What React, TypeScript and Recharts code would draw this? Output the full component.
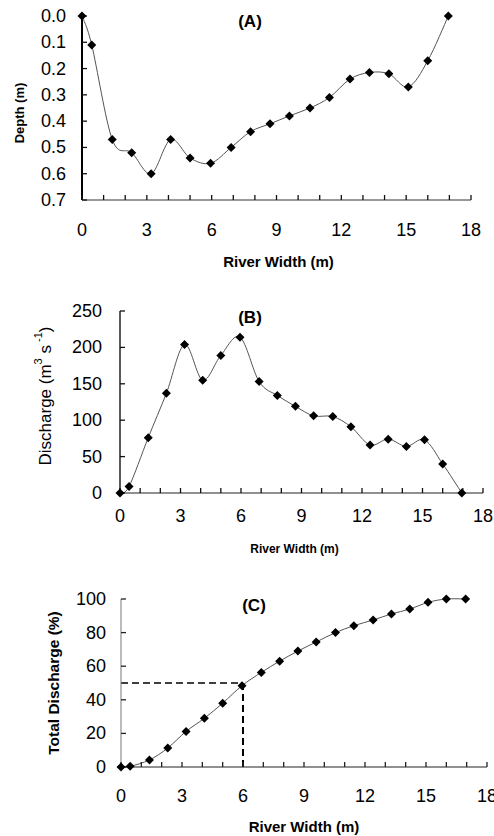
import { Label, Line, LineChart, ReferenceLine, XAxis, YAxis } from "recharts";

const FONT = '"Liberation Sans", Arial, sans-serif';

// distance across the river (m), shared by all three panels
const distance = [0, 0.45, 1.4, 2.3, 3.2, 4.1, 5.0, 5.95, 6.9, 7.8, 8.7, 9.6, 10.55, 11.45, 12.4, 13.3, 14.2, 15.1, 16.0, 16.95];
const depth = [0, 0.11, 0.47, 0.52, 0.6, 0.47, 0.54, 0.56, 0.5, 0.44, 0.41, 0.38, 0.35, 0.31, 0.24, 0.215, 0.22, 0.27, 0.17, 0];
const discharge = [0, 9, 76, 137, 204, 155, 189, 214, 153, 134, 119, 106, 105, 91, 66, 74, 64, 73, 40, 0];
const cumulative = [0, 0.4, 4.2, 11.3, 21.2, 29, 38, 48.4, 56.3, 63, 69, 74.4, 80, 84.1, 87.5, 91.1, 94, 98, 100, 100];

const xTicks = [0, 1, 2, 3, 4, 5, 6, 7, 8, 9, 10, 11, 12, 13, 14, 15, 16, 17, 18];
const depthTicks = [0, 0.1, 0.2, 0.3, 0.4, 0.5, 0.6, 0.7];
const dischargeTicks = [0, 50, 100, 150, 200, 250];
const cumulativeTicks = [0, 20, 40, 60, 80, 100];

const rows = distance.map((x, i) => ({
  x,
  depth: depth[i],
  q: discharge[i],
  cum: cumulative[i],
}));

// Excel style smoothed line (Catmull-Rom through every point)
const excelSmooth = (context: any) => {
  let pts: number[][] = [];
  return {
    areaStart() {},
    areaEnd() {},
    lineStart() {
      pts = [];
    },
    point(x: number, y: number) {
      pts.push([+x, +y]);
    },
    lineEnd() {
      if (!pts.length) return;
      context.moveTo(pts[0][0], pts[0][1]);
      for (let i = 0; i < pts.length - 1; i++) {
        const p0 = pts[i - 1] || pts[i];
        const p1 = pts[i];
        const p2 = pts[i + 1];
        const p3 = pts[i + 2] || p2;
        context.bezierCurveTo(
          p1[0] + (p2[0] - p0[0]) / 6,
          p1[1] + (p2[1] - p0[1]) / 6,
          p2[0] - (p3[0] - p1[0]) / 6,
          p2[1] - (p3[1] - p1[1]) / 6,
          p2[0],
          p2[1]
        );
      }
    },
  };
};

const Diamond = (props: any) => {
  const { cx, cy, index } = props;
  if (cx == null || cy == null) return <g key={index} />;
  const r = 4.5;
  return (
    <path
      key={index}
      d={`M${cx},${cy - r}L${cx + r},${cy}L${cx},${cy + r}L${cx - r},${cy}Z`}
      fill="#000"
    />
  );
};

const TICK_FS = 18;
const TICK_LEN = 5;

// tick marks pointing into the plot, drawn as the dots of an invisible series
const xMark = (color: string) => (props: any) => {
  const { cx, cy, index } = props;
  if (cx == null || cy == null) return <g key={index} />;
  return <path key={index} d={`M${cx},${cy}V${cy - TICK_LEN}`} stroke={color} strokeWidth={1.3} fill="none" />;
};
const yMark = (color: string) => (props: any) => {
  const { cx, cy, index } = props;
  if (cx == null || cy == null) return <g key={index} />;
  return <path key={index} d={`M${cx},${cy}H${cx + TICK_LEN}`} stroke={color} strokeWidth={1.3} fill="none" />;
};

const TickMarks = (yTicks: number[], yBase: number, color: string) => [
  <Line
    key="xm"
    data={xTicks.map((t) => ({ x: t, m: yBase }))}
    dataKey="m"
    stroke="none"
    dot={xMark(color)}
    activeDot={false}
    legendType="none"
    isAnimationActive={false}
  />,
  <Line
    key="ym"
    data={yTicks.map((t) => ({ x: 0, m: t }))}
    dataKey="m"
    stroke="none"
    dot={yMark(color)}
    activeDot={false}
    legendType="none"
    isAnimationActive={false}
  />,
];

// tick labels: a number every 3 m on x
const xText = (gap: number) => (props: any) => {
  const { x, y, payload } = props;
  const v = payload.value;
  if (v % 3 !== 0) return <g />;
  return (
    <text x={x} y={y + gap} textAnchor="middle" dominantBaseline="central" fontFamily={FONT} fontSize={TICK_FS} fill="#000">
      {v}
    </text>
  );
};
const yText = (gap: number, fmt: (v: number) => string) => (props: any) => {
  const { x, y, payload } = props;
  return (
    <text x={x - gap} y={y} textAnchor="end" dominantBaseline="central" fontFamily={FONT} fontSize={TICK_FS} fill="#000">
      {fmt(payload.value)}
    </text>
  );
};

const yTitle =
  (cx: number, dy: number, weight: string, size: number, children: any) =>
  (props: any) => {
    const vb = props.viewBox || {};
    const cy = vb.y + vb.height / 2 + dy;
    return (
      <text
        x={cx}
        y={cy}
        transform={`rotate(-90 ${cx} ${cy})`}
        textAnchor="middle"
        dominantBaseline="central"
        fontFamily={FONT}
        fontWeight={weight}
        fontSize={size}
        fill="#000"
      >
        {children}
      </text>
    );
  };

const Title = ({ text, cx, cy }: { text: string; cx: number; cy: number }) => (
  <div
    style={{
      position: "absolute",
      left: cx - 40,
      top: cy - 10,
      width: 80,
      height: 20,
      lineHeight: "20px",
      textAlign: "center",
      fontFamily: FONT,
      fontWeight: "bold",
      fontSize: 17,
      color: "#000",
    }}
  >
    {text}
  </div>
);

function Series({ dataKey }: { dataKey: string }) {
  return (
    <Line
      dataKey={dataKey}
      type={excelSmooth as any}
      stroke="#555"
      strokeWidth={1}
      dot={Diamond}
      activeDot={false}
      isAnimationActive={false}
    />
  );
}

const str = (v: number) => String(v);

export default function App() {
  return (
    <div style={{ position: "absolute", left: 0, top: 0, width: 494, height: 836, background: "#fff" }}>
      {/* (A) depth profile */}
      <div style={{ position: "absolute", left: 0, top: 0 }}>
        <LineChart width={494} height={280} data={rows} margin={{ top: 16, right: 23, bottom: 50, left: 0 }}>
          <XAxis
            dataKey="x"
            type="number"
            domain={[0, 18]}
            ticks={xTicks}
            interval={0}
            tick={xText(30)}
            tickSize={0}
            tickMargin={0}
            tickLine={false}
            height={30}
            axisLine={{ stroke: "#333", strokeWidth: 1 }}
          >
            <Label
              value="River Width (m)"
              position="bottom"
              offset={26}
              dx={2}
              style={{ fontFamily: FONT, fontWeight: "bold", fontSize: 15, fill: "#000" }}
            />
          </XAxis>
          <YAxis
            type="number"
            domain={[0, 0.7]}
            reversed
            ticks={depthTicks}
            interval={0}
            tick={yText(16, (v) => v.toFixed(1))}
            tickSize={0}
            tickMargin={0}
            tickLine={false}
            width={82}
            axisLine={{ stroke: "#000", strokeWidth: 2 }}
            label={{ content: yTitle(19, 5, "bold", 13, "Depth (m)") }}
          />
          {TickMarks(depthTicks, 0.7, "#111")}
          <Series dataKey="depth" />
        </LineChart>
        <Title text="(A)" cx={250} cy={22} />
      </div>

      {/* (B) discharge */}
      <div style={{ position: "absolute", left: 0, top: 290 }}>
        <LineChart width={494} height={270} data={rows} margin={{ top: 21, right: 11, bottom: 37, left: 0 }}>
          <XAxis
            dataKey="x"
            type="number"
            domain={[0, 18]}
            ticks={xTicks}
            interval={0}
            tick={xText(23)}
            tickSize={0}
            tickMargin={0}
            tickLine={false}
            height={30}
            axisLine={{ stroke: "#222", strokeWidth: 1 }}
          >
            <Label
              value="River Width (m)"
              position="bottom"
              offset={21}
              dx={-7}
              style={{ fontFamily: FONT, fontWeight: "bold", fontSize: 12, fill: "#000" }}
            />
          </XAxis>
          <YAxis
            type="number"
            domain={[0, 250]}
            ticks={dischargeTicks}
            interval={0}
            tick={yText(18, str)}
            tickSize={0}
            tickMargin={0}
            tickLine={false}
            width={120}
            axisLine={{ stroke: "#222", strokeWidth: 1.5 }}
            label={{
              content: yTitle(45, -6, "normal", 17, [
                "Discharge (m",
                <tspan key="a" dy={-7} fontSize={11}>3</tspan>,
                <tspan key="b" dy={7}> s</tspan>,
                <tspan key="c" dy={-7} fontSize={11}> -1</tspan>,
                <tspan key="d" dy={7}>)</tspan>,
              ]),
            }}
          />
          {TickMarks(dischargeTicks, 0, "#111")}
          <Series dataKey="q" />
        </LineChart>
        <Title text="(B)" cx={250} cy={28} />
      </div>

      {/* (C) cumulative discharge */}
      <div style={{ position: "absolute", left: 0, top: 580 }}>
        <LineChart width={494} height={256} data={rows} margin={{ top: 19, right: 7, bottom: 39, left: 0 }}>
          <XAxis
            dataKey="x"
            type="number"
            domain={[0, 18]}
            ticks={xTicks}
            interval={0}
            tick={xText(29)}
            tickSize={0}
            tickMargin={0}
            tickLine={false}
            height={30}
            axisLine={{ stroke: "#222", strokeWidth: 1 }}
          >
            <Label
              value="River Width (m)"
              position="bottom"
              offset={24}
              style={{ fontFamily: FONT, fontWeight: "bold", fontSize: 15, fill: "#000" }}
            />
          </XAxis>
          <YAxis
            type="number"
            domain={[0, 100]}
            ticks={cumulativeTicks}
            interval={0}
            tick={yText(15, str)}
            tickSize={0}
            tickMargin={0}
            tickLine={false}
            width={121}
            axisLine={{ stroke: "#777", strokeWidth: 1 }}
            label={{ content: yTitle(53, 0, "bold", 15.5, "Total Discharge (%)") }}
          />
          {TickMarks(cumulativeTicks, 0, "#222")}
          <ReferenceLine
            segment={[{ x: 0, y: 50 }, { x: 6, y: 50 }]}
            stroke="#000"
            strokeWidth={1.5}
            strokeDasharray="7 4"
          />
          <ReferenceLine
            segment={[{ x: 6, y: 0 }, { x: 6, y: 50 }]}
            stroke="#000"
            strokeWidth={2}
            strokeDasharray="7 4"
          />
          <Series dataKey="cum" />
        </LineChart>
        <Title text="(C)" cx={254} cy={26} />
      </div>
    </div>
  );
}
